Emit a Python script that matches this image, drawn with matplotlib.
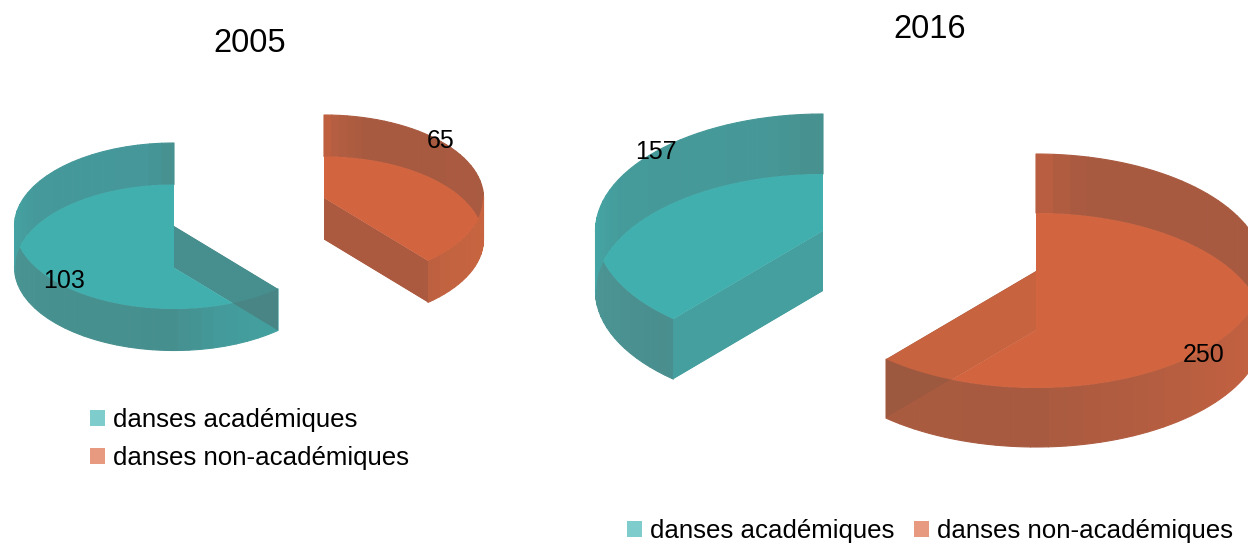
import matplotlib
matplotlib.use('Agg')
import matplotlib.pyplot as plt
from matplotlib.patches import Polygon, Rectangle
from matplotlib.collections import PolyCollection
import numpy as np

plt.rcParams['font.family'] = ['Liberation Sans', 'DejaVu Sans']

# data
years = ['2005', '2016']
categories = ['danses académiques', 'danses non-académiques']
values_2005 = [103, 65]
values_2016 = [157, 250]

# colours
teal_light = '#41AFAE'
orange_light = '#D2643F'
teal_legend = '#7FCCCD'
orange_legend = '#E89A80'


def arc(cx, cy, rx, ry, a0, a1, n=201):
    # angles in degrees, clockwise from 12 o'clock (y axis points down)
    t = np.radians(np.linspace(a0, a1, n))
    return np.column_stack([cx + rx * np.sin(t), cy - ry * np.cos(t)])


def draw_slice(ax, cx, cy, rx, ry, depth, a0, a1, light, stops, shades, quad_in, quad_out):
    top_arc = arc(cx, cy, rx, ry, a0, a1)
    low_arc = top_arc + [0, depth]
    top_poly = np.vstack([[cx, cy], top_arc])
    low_poly = top_poly + [0, depth]

    # curved wall, in short strips so the shading can vary along it
    angles = np.linspace(a0, a1, 201)
    rgb = np.array([matplotlib.colors.to_rgb(c) for c in shades])
    strips = []
    cols = []
    step = 4
    for i in range(0, 200, step):
        strips.append(np.vstack([top_arc[i:i + step + 1], low_arc[i:i + step + 1][::-1]]))
        mid = angles[i:i + step + 1].mean()
        cols.append([np.interp(mid, stops, rgb[:, k]) for k in range(3)])
    ax.add_collection(PolyCollection(strips, facecolors=cols, edgecolors=cols, linewidths=0.8, zorder=2))

    # clip shapes
    top_clip = Polygon(top_poly, closed=True, transform=ax.transData)
    low_clip = Polygon(low_poly, closed=True, transform=ax.transData)

    # flat radial walls
    for edge in [top_arc[0], top_arc[-1]]:
        quad = [[cx, cy], edge, edge + [0, depth], [cx, cy + depth]]
        ax.add_patch(Polygon(quad, closed=True, fc=quad_out, ec='none', zorder=3))
        for clip in [top_clip, low_clip]:
            p = Polygon(quad, closed=True, fc=quad_in, ec='none', zorder=4)
            ax.add_patch(p)
            p.set_clip_path(clip)

    # the lighter part where top and bottom faces overlap
    lens = Polygon(low_poly, closed=True, fc=light, ec='none', zorder=5)
    ax.add_patch(lens)
    lens.set_clip_path(top_clip)


def sweep(values):
    return 360 * values[0] / sum(values), 360 * values[1] / sum(values)


fig = plt.figure(figsize=(12.48, 5.43), dpi=100)
ax = fig.add_axes([0, 0, 1, 1])
ax.set_xlim(0, 1248)
ax.set_ylim(543, 0)
ax.axis('off')

# 2005
a_teal, a_orange = sweep(values_2005)
draw_slice(ax, 174, 226, 159.5, 83, 41.5, a_orange, 360, teal_light,
           [a_orange, a_orange + 25, 180, 225, 268, 271, 300, 350, 360],
           ['#42A19F', '#449A9A', '#468F8F', '#46918F', '#4A9594', '#44A6A5', '#45999A', '#45979A', '#48908F'],
           '#468F8E', '#498584')
draw_slice(ax, 324, 198, 159.5, 83, 41.5, 0, a_orange, orange_light,
           [0, 5, 14, 88, 91, 130, a_orange],
           ['#C2603F', '#B45E41', '#A85A40', '#A95A40', '#CA6440', '#C26340', '#BC6040'],
           '#AB5A40', '#AB5A40')

# 2016
a_teal, a_orange = sweep(values_2016)
draw_slice(ax, 823, 231, 227.5, 117, 60, a_orange, 360, teal_light,
           [a_orange, a_orange + 4, 268, 271, 300, 345, 360],
           ['#4A9090', '#4A8E8E', '#4C9696', '#44A8A7', '#459A9A', '#469898', '#47908F'],
           '#459F9F', '#459F9F')
draw_slice(ax, 1036, 271, 228, 117, 59, 0, a_orange, orange_light,
           [0, 4, 12, 88, 91, 130, 180, a_orange],
           ['#C2603F', '#B25D41', '#A85A40', '#A85A40', '#C8633F', '#BC5F40', '#A85A40', '#A95B40'],
           '#C8633F', '#9D5940')

# titles
ax.text(250, 43, years[0], fontsize=23.5, ha='center', va='center', color='black', zorder=10)
ax.text(930, 30, years[1], fontsize=23.5, ha='center', va='center', color='black', zorder=10)

# value labels
ax.text(64, 281, str(values_2005[0]), fontsize=18, ha='center', va='center', color='black', zorder=10)
ax.text(440.5, 141, str(values_2005[1]), fontsize=18, ha='center', va='center', color='black', zorder=10)
ax.text(656, 152, str(values_2016[0]), fontsize=18, ha='center', va='center', color='black', zorder=10)
ax.text(1204, 355, str(values_2016[1]), fontsize=18, ha='center', va='center', color='black', zorder=10)

# legends
ax.add_patch(Rectangle((90, 410), 15, 16, fc=teal_legend, ec='none'))
ax.add_patch(Rectangle((90, 448), 15, 16, fc=orange_legend, ec='none'))
ax.text(113, 420, categories[0], fontsize=18.6, ha='left', va='center', color='black')
ax.text(113, 458, categories[1], fontsize=18.6, ha='left', va='center', color='black')

ax.add_patch(Rectangle((627, 521), 15, 16, fc=teal_legend, ec='none'))
ax.add_patch(Rectangle((914, 521), 15, 16, fc=orange_legend, ec='none'))
ax.text(650, 531, categories[0], fontsize=18.6, ha='left', va='center', color='black')
ax.text(937, 531, categories[1], fontsize=18.6, ha='left', va='center', color='black')

fig.savefig('out.png', dpi=100)
